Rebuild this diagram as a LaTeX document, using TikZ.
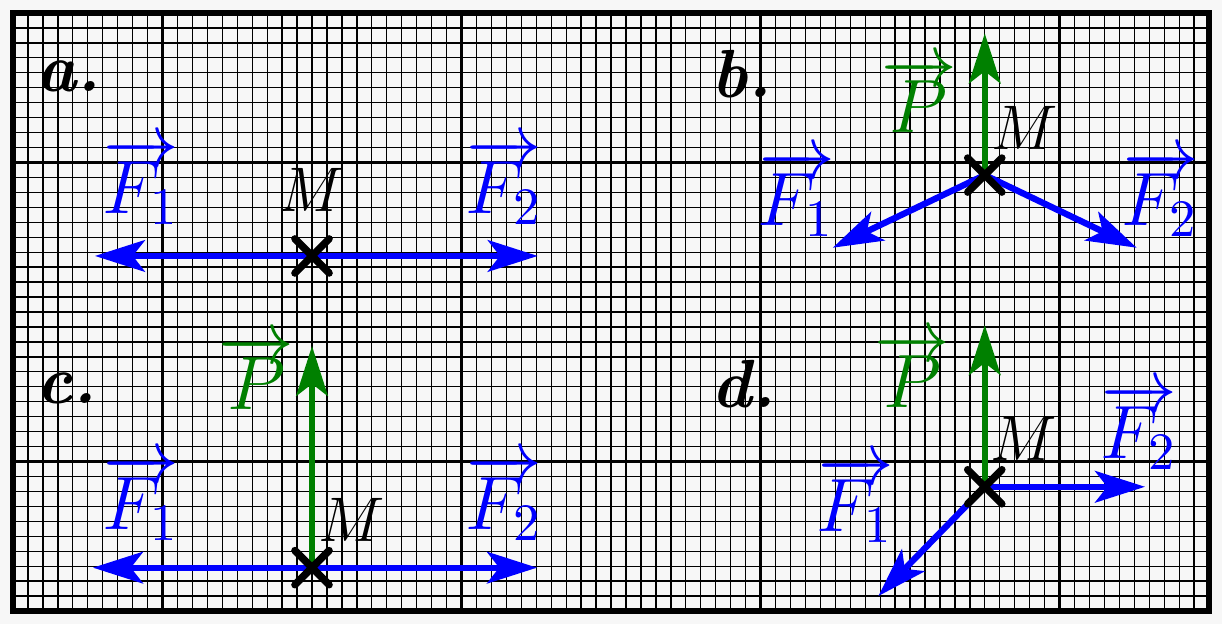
\documentclass[tikz,border=0pt]{standalone}
\usetikzlibrary{arrows.meta,shapes.misc}
\definecolor{bg}{HTML}{F7F7F7}
\definecolor{pgreen}{RGB}{0,128,0}
\begin{document}
\begin{tikzpicture}[x=1cm,y=1cm,
  vec/.style={line width=1.2pt,-{Stealth[length=9.5pt,width=6pt,inset=2.3pt]}},
  force/.style={vec,blue},
  weight/.style={vec,pgreen},
  lbl/.style={inner sep=0pt,anchor=base west,font=\Large},
  mlbl/.style={inner sep=0pt,anchor=base west,font=\large},
  panel/.style={inner sep=0pt,anchor=base west,font=\large\bfseries\itshape,scale=1.08,transform shape},
  xmark/.style={cross out,draw,black,minimum size=0.18cm,inner sep=0pt,line width=1.4pt,line cap=round}]
\fill[bg] (-0.087,-0.087) rectangle (8.087,4.087);
\useasboundingbox (-0.087,-0.087) rectangle (8.087,4.087);
% grid
\draw[line width=0.25pt,step=0.1] (0,0) grid (8,4);
\draw[line width=0.55pt,step=1] (0,0) grid (8,4);
\draw[line width=1pt] (0,0) rectangle (8,4);
% points
\coordinate (Ma) at (2.0,2.375);
\coordinate (Mb) at (6.5,2.916);
\coordinate (Mc) at (2.0,0.290);
\coordinate (Md) at (6.5,0.831);
\coordinate (a1) at (0.548,2.375);
\coordinate (a2) at (3.51,2.375);
\coordinate (bP) at (6.5,3.864);
\coordinate (b1) at (5.483,2.43);
\coordinate (b2) at (7.516,2.43);
\coordinate (cP) at (2.0,1.773);
\coordinate (c1) at (0.535,0.29);
\coordinate (c2) at (3.505,0.29);
\coordinate (dP) at (6.5,1.913);
\coordinate (d1) at (5.788,0.100);
\coordinate (d2) at (7.572,0.831);
% arrows
\draw[force] (Ma) -- (a1);
\draw[force] (Ma) -- (a2);
\draw[weight] (Mb) -- (bP);
\draw[force] (Mb) -- (b1);
\draw[force] (Mb) -- (b2);
\draw[weight] (Mc) -- (cP);
\draw[force] (Mc) -- (c1);
\draw[force] (Mc) -- (c2);
\draw[weight] (Md) -- (dP);
\draw[force] (Md) -- (d1);
\draw[force] (Md) -- (d2);
% crosses
\node[xmark] (xa) at (Ma) {};
\node[xmark] (xb) at (Mb) {};
\node[xmark] (xc) at (Mc) {};
\node[xmark] (xd) at (Md) {};
% panel a
\node[panel] (la) at (0.15,3.472) {a.};
\node[lbl,blue] (aF1) at (0.59,2.66) {$\overrightarrow{F_1}$};
\node[lbl,blue] (aF2) at (3.02,2.66) {$\overrightarrow{F_2}$};
\node[mlbl] (aM) at (1.77,2.671) {$M$};
% panel b
\node[panel] (lb) at (4.665,3.438) {b.};
\node[lbl,pgreen] (bPl) at (5.80,3.20) {$\overrightarrow{P}$};
\node[lbl,blue] (bF1) at (4.975,2.58) {$\overrightarrow{F_1}$};
\node[lbl,blue] (bF2) at (7.41,2.58) {$\overrightarrow{F_2}$};
\node[mlbl] (bM) at (6.54,3.084) {$M$};
% panel c
\node[panel] (lc) at (0.15,1.385) {c.};
\node[lbl,pgreen] (cPl) at (1.37,1.345) {$\overrightarrow{P}$};
\node[lbl,blue] (cF1) at (0.59,0.548) {$\overrightarrow{F_1}$};
\node[lbl,blue] (cF2) at (3.02,0.548) {$\overrightarrow{F_2}$};
\node[mlbl] (cM) at (2.035,0.468) {$M$};
% panel d
\node[panel] (ld) at (4.665,1.358) {d.};
\node[lbl,pgreen] (dPl) at (5.755,1.36) {$\overrightarrow{P}$};
\node[lbl,blue] (dF1) at (5.37,0.535) {$\overrightarrow{F_1}$};
\node[lbl,blue] (dF2) at (7.265,1.022) {$\overrightarrow{F_2}$};
\node[mlbl] (dM) at (6.53,1.010) {$M$};
\end{tikzpicture}
\end{document}
